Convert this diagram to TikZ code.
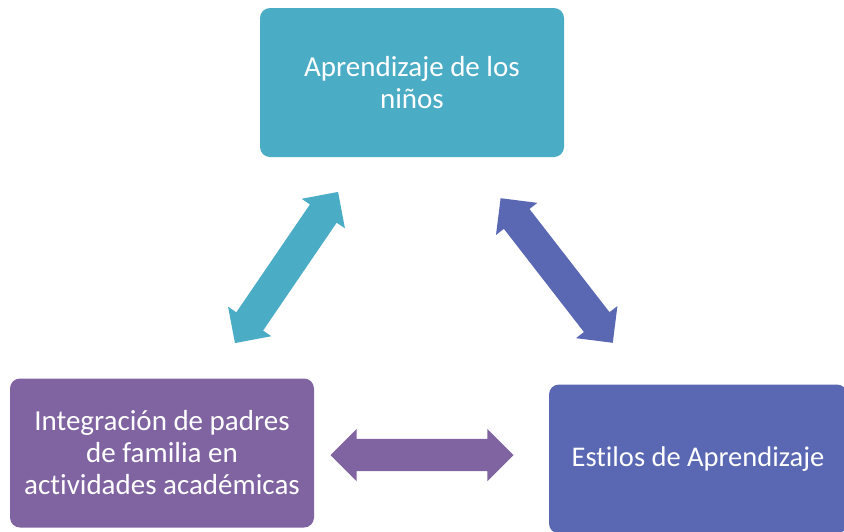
\documentclass[tikz,border=0pt]{standalone}
\usepackage{fontspec}
\setmainfont{Carlito}[Ligatures=NoCommon]
\usetikzlibrary{shapes.arrows}

\definecolor{tealbox}{HTML}{4BACC6}
\definecolor{violetbox}{HTML}{8064A2}
\definecolor{bluebox}{HTML}{5A67B3}

\begin{document}
\begin{tikzpicture}[x=1pt, y=-1pt,
  box/.style={rectangle, rounded corners=10pt, minimum width=304pt, minimum height=149pt,
    text=white, align=center, font=\fontsize{29}{32}\selectfont},
  link/.style={double arrow, double arrow head extend=10pt, minimum height=183pt,
    inner xsep=0pt, inner ysep=16pt}]
\useasboundingbox (0,0) rectangle (844,531);

% the three boxes
\node[box, fill=tealbox] (ninos) at (412,82.5) {Aprendizaje de los\\ niños};
\node[box, fill=violetbox] (padres) at (162,453) {Integración de padres\\ de familia en\\ actividades académicas};
\node[box, fill=bluebox, minimum width=298pt, font=\fontsize{28.5}{32}\selectfont] (estilos) at (698,459) {Estilos de Aprendizaje};

% block arrows between them
\node[link, fill=tealbox, rotate=55.7] (ninospadres) at (286.5,267.5) {};
\node[link, fill=bluebox, rotate=-52.2] (ninosestilos) at (556.7,270.5) {};
\node[link, fill=violetbox] (padresestilos) at (422,455) {};
\end{tikzpicture}
\end{document}
